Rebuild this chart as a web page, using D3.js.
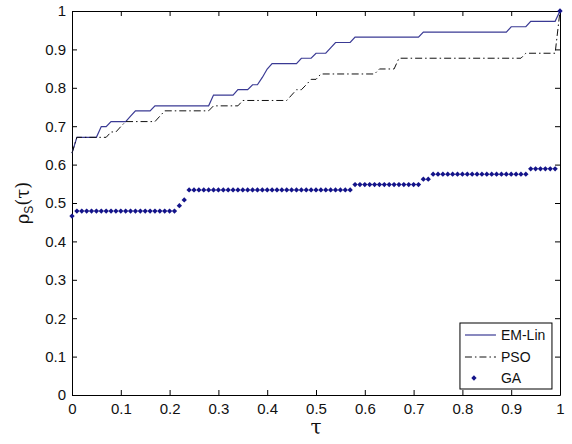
<!DOCTYPE html>
<html>
<head>
<meta charset="utf-8">
<script src="https://cdn.jsdelivr.net/npm/d3@7"></script>
<style>
  body { margin: 0; background: #fff; }
  text { font-family: "Liberation Sans", Arial, sans-serif; fill: #111; }
  .axis path, .axis line { stroke: #000; stroke-width: 1; }
</style>
</head>
<body>
<svg id="profile"></svg>
<script>
// ---- DATA ---- //
const seriesNames = ["EM-Lin", "PSO", "GA"];

// EM-Lin polyline vertices
const emTau = [0, 0.01, 0.05, 0.06, 0.07, 0.08, 0.11, 0.12, 0.13, 0.16, 0.17, 0.28, 0.29, 0.33, 0.34, 0.36,
  0.37, 0.38, 0.39, 0.40, 0.41, 0.46, 0.47, 0.49, 0.50, 0.52, 0.53, 0.54, 0.57, 0.58, 0.71, 0.72,
  0.89, 0.90, 0.93, 0.94, 0.99, 1.00];
const emRho = [0.630, 0.671, 0.671, 0.699, 0.699, 0.712, 0.712, 0.726, 0.740, 0.740, 0.753, 0.753, 0.781, 0.781, 0.795, 0.795,
  0.808, 0.808, 0.827, 0.849, 0.863, 0.863, 0.877, 0.877, 0.890, 0.890, 0.904, 0.918, 0.918, 0.932, 0.932, 0.945,
  0.945, 0.959, 0.959, 0.973, 0.973, 1.000];

// PSO polyline vertices
const psoTau = [0, 0.01, 0.07, 0.08, 0.09, 0.10, 0.11, 0.17, 0.18, 0.19, 0.28, 0.29, 0.34, 0.35, 0.44, 0.45,
  0.46, 0.47, 0.48, 0.49, 0.50, 0.51, 0.62, 0.63, 0.66, 0.67, 0.92, 0.93, 0.99, 1.00];
const psoRho = [0.630, 0.671, 0.671, 0.685, 0.685, 0.699, 0.712, 0.712, 0.726, 0.740, 0.740, 0.753, 0.753, 0.767, 0.767, 0.781,
  0.795, 0.795, 0.808, 0.822, 0.822, 0.836, 0.836, 0.849, 0.849, 0.877, 0.877, 0.890, 0.890, 1.000];

// GA markers, one per tau step of 0.01
const gaRho = [
  0.466,
  0.479, 0.479, 0.479, 0.479, 0.479, 0.479, 0.479, 0.479, 0.479, 0.479,
  0.479, 0.479, 0.479, 0.479, 0.479, 0.479, 0.479, 0.479, 0.479, 0.479, 0.479,
  0.493, 0.508,
  0.534, 0.534, 0.534, 0.534, 0.534, 0.534, 0.534, 0.534, 0.534, 0.534,
  0.534, 0.534, 0.534, 0.534, 0.534, 0.534, 0.534, 0.534, 0.534, 0.534,
  0.534, 0.534, 0.534, 0.534, 0.534, 0.534, 0.534, 0.534, 0.534, 0.534,
  0.534, 0.534, 0.534, 0.534,
  0.548, 0.548, 0.548, 0.548, 0.548, 0.548, 0.548, 0.548, 0.548, 0.548,
  0.548, 0.548, 0.548, 0.548,
  0.562, 0.562,
  0.575, 0.575, 0.575, 0.575, 0.575, 0.575, 0.575, 0.575, 0.575, 0.575,
  0.575, 0.575, 0.575, 0.575, 0.575, 0.575, 0.575, 0.575, 0.575, 0.575,
  0.589, 0.589, 0.589, 0.589, 0.589, 0.589,
  1.000
];
const gaTau = gaRho.map((d, i) => i / 100);

const xTicks = [0, 0.1, 0.2, 0.3, 0.4, 0.5, 0.6, 0.7, 0.8, 0.9, 1];
const xTickLabels = ["0", "0.1", "0.2", "0.3", "0.4", "0.5", "0.6", "0.7", "0.8", "0.9", "1"];
const yTicks = [0, 0.1, 0.2, 0.3, 0.4, 0.5, 0.6, 0.7, 0.8, 0.9, 1];
const yTickLabels = ["0", "0.1", "0.2", "0.3", "0.4", "0.5", "0.6", "0.7", "0.8", "0.9", "1"];

// ---- THE CHART ---- //
const margin = {top: 11, right: 12, bottom: 49, left: 72},
  width = 572 - margin.left - margin.right,
  height = 444 - margin.top - margin.bottom;

const svg = d3.select("#profile")
  .attr("width", 572)
  .attr("height", 444)
.append("g")
  .attr("transform", "translate(" + margin.left + "," + margin.top + ")");

const xScale = d3.scaleLinear().domain([0, 1]).range([0, width]);
const yScale = d3.scaleLinear().domain([0, 1]).range([height, 0]);

// axes, ticks pointing inward like matlab
const tickLen = 5;
svg.append("g")
  .attr("class", "axis")
  .attr("transform", "translate(0," + height + ")")
  .call(d3.axisBottom(xScale).tickValues(xTicks).tickFormat((d, i) => xTickLabels[i])
    .tickSizeInner(-tickLen).tickSizeOuter(0).tickPadding(8))
  .selectAll("text").style("font-size", "15px");
svg.append("g")
  .attr("class", "axis")
  .call(d3.axisLeft(yScale).tickValues(yTicks).tickFormat((d, i) => yTickLabels[i])
    .tickSizeInner(-tickLen).tickSizeOuter(0).tickPadding(6))
  .selectAll("text").style("font-size", "15px");
svg.append("g")
  .attr("class", "axis")
  .call(d3.axisTop(xScale).tickValues(xTicks).tickFormat("").tickSizeInner(-tickLen).tickSizeOuter(0));
svg.append("g")
  .attr("class", "axis")
  .attr("transform", "translate(" + width + ",0)")
  .call(d3.axisRight(yScale).tickValues(yTicks).tickFormat("").tickSizeInner(-tickLen).tickSizeOuter(0));
svg.selectAll(".axis .domain").attr("fill", "none");

// ---- SERIES ---- //
const line = d3.line()
  .x(d => xScale(d[0]))
  .y(d => yScale(d[1]));

svg.append("path")
  .datum(emTau.map((t, i) => [t, emRho[i]]))
  .attr("d", line)
  .attr("fill", "none")
  .attr("stroke", "#3a3a94")
  .attr("stroke-width", 1.2);

svg.append("path")
  .datum(psoTau.map((t, i) => [t, psoRho[i]]))
  .attr("d", line)
  .attr("fill", "none")
  .attr("stroke", "#111")
  .attr("stroke-width", 1)
  .style("stroke-dasharray", "7,3,1.5,3");

const diamond = d3.symbol().type(d3.symbolDiamond2).size(18);
svg.selectAll(".ga")
  .data(gaTau.map((t, i) => [t, gaRho[i]]))
  .enter().append("path")
    .attr("class", "ga")
    .attr("d", diamond)
    .attr("transform", d => "translate(" + xScale(d[0]) + "," + yScale(d[1]) + ")")
    .attr("fill", "#14148a");

// ---- LABELS ---- //
svg.append("text")
  .attr("x", width / 2)
  .attr("y", height + 39)
  .attr("text-anchor", "middle")
  .style("font-family", "'DejaVu Serif', serif")
  .style("font-size", "20px")
  .text("τ");

const yLabel = svg.append("text")
  .attr("transform", "translate(" + (-43) + "," + (height / 2) + ") rotate(-90)")
  .attr("text-anchor", "middle")
  .style("font-size", "18px");
yLabel.append("tspan").style("font-family", "'DejaVu Serif', serif").text("ρ");
yLabel.append("tspan").attr("dy", 4).style("font-size", "12px").text("S");
yLabel.append("tspan").attr("dy", -4).style("font-family", "'DejaVu Serif', serif").text("(τ)");

// ---- LEGEND ---- //
const legend = svg.append("g")
  .attr("transform", "translate(" + xScale(0.795) + "," + yScale(0.1875) + ")");
legend.append("rect")
  .attr("width", 92).attr("height", 66)
  .attr("fill", "#fff").attr("stroke", "#000").attr("stroke-width", 1);

const rowY = [12, 34, 55];
legend.selectAll(".entry")
  .data(seriesNames)
  .enter().append("text")
    .attr("x", 41)
    .attr("y", (d, i) => rowY[i] + 5)
    .style("font-size", "14px")
    .text(d => d);

legend.append("line").attr("x1", 5).attr("x2", 36).attr("y1", rowY[0]).attr("y2", rowY[0])
  .attr("stroke", "#3a3a94").attr("stroke-width", 1.2);
legend.append("line").attr("x1", 5).attr("x2", 36).attr("y1", rowY[1]).attr("y2", rowY[1])
  .attr("stroke", "#111").style("stroke-dasharray", "7,3,1.5,3");
legend.append("path").attr("d", diamond)
  .attr("transform", "translate(14," + rowY[2] + ")")
  .attr("fill", "#14148a");
</script>
</body>
</html>
